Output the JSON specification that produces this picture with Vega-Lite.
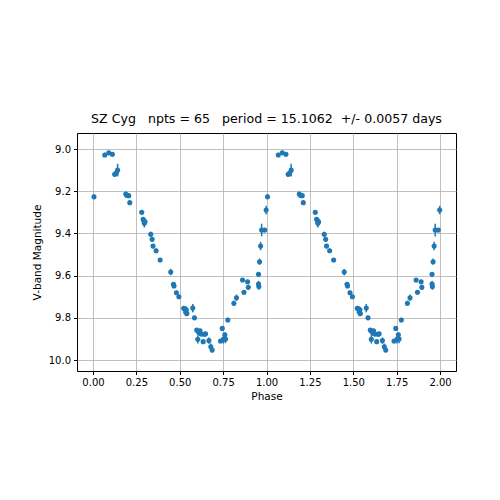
{
  "$schema": "https://vega.github.io/schema/vega-lite/v6.json",
  "autosize": {"type": "none"},
  "padding": {"left": 77, "top": 133, "right": 44, "bottom": 129},
  "width": 379,
  "height": 238,
  "background": "white",
  "title": {
    "text": "SZ Cyg\u00a0\u00a0\u00a0npts = 65\u00a0\u00a0\u00a0period = 15.1062\u00a0\u00a0+/- 0.0057 days",
    "font": "DejaVu Sans",
    "fontSize": 12.6,
    "fontWeight": "normal",
    "color": "#000000",
    "anchor": "middle",
    "offset": 7
  },
  "data": {
    "values": [
      {"p": 0.006, "p2": 1.006, "m": 9.226, "e": 0.012},
      {"p": 0.068, "p2": 1.068, "m": 9.028, "e": 0.01},
      {"p": 0.091, "p2": 1.091, "m": 9.018, "e": 0.01},
      {"p": 0.112, "p2": 1.112, "m": 9.025, "e": 0.01},
      {"p": 0.125, "p2": 1.125, "m": 9.12, "e": 0.012},
      {"p": 0.133, "p2": 1.133, "m": 9.115, "e": 0.01},
      {"p": 0.142, "p2": 1.142, "m": 9.1, "e": 0.03},
      {"p": 0.189, "p2": 1.189, "m": 9.213, "e": 0.01},
      {"p": 0.196, "p2": 1.196, "m": 9.22, "e": 0.01},
      {"p": 0.206, "p2": 1.206, "m": 9.221, "e": 0.01},
      {"p": 0.212, "p2": 1.212, "m": 9.254, "e": 0.008},
      {"p": 0.281, "p2": 1.281, "m": 9.3, "e": 0.01},
      {"p": 0.289, "p2": 1.289, "m": 9.333, "e": 0.01},
      {"p": 0.294, "p2": 1.294, "m": 9.34, "e": 0.01},
      {"p": 0.3, "p2": 1.3, "m": 9.345, "e": 0.01},
      {"p": 0.296, "p2": 1.296, "m": 9.352, "e": 0.02},
      {"p": 0.333, "p2": 1.333, "m": 9.404, "e": 0.012},
      {"p": 0.341, "p2": 1.341, "m": 9.428, "e": 0.01},
      {"p": 0.346, "p2": 1.346, "m": 9.46, "e": 0.01},
      {"p": 0.364, "p2": 1.364, "m": 9.482, "e": 0.01},
      {"p": 0.387, "p2": 1.387, "m": 9.526, "e": 0.008},
      {"p": 0.448, "p2": 1.448, "m": 9.583, "e": 0.015},
      {"p": 0.464, "p2": 1.464, "m": 9.641, "e": 0.01},
      {"p": 0.467, "p2": 1.467, "m": 9.649, "e": 0.01},
      {"p": 0.481, "p2": 1.481, "m": 9.681, "e": 0.01},
      {"p": 0.495, "p2": 1.495, "m": 9.7, "e": 0.01},
      {"p": 0.523, "p2": 1.523, "m": 9.755, "e": 0.01},
      {"p": 0.53, "p2": 1.53, "m": 9.757, "e": 0.01},
      {"p": 0.538, "p2": 1.538, "m": 9.762, "e": 0.015},
      {"p": 0.534, "p2": 1.534, "m": 9.772, "e": 0.02},
      {"p": 0.541, "p2": 1.541, "m": 9.78, "e": 0.01},
      {"p": 0.575, "p2": 1.575, "m": 9.754, "e": 0.02},
      {"p": 0.585, "p2": 1.585, "m": 9.8, "e": 0.01},
      {"p": 0.598, "p2": 1.598, "m": 9.858, "e": 0.01},
      {"p": 0.606, "p2": 1.606, "m": 9.865, "e": 0.01},
      {"p": 0.617, "p2": 1.617, "m": 9.862, "e": 0.01},
      {"p": 0.613, "p2": 1.613, "m": 9.872, "e": 0.012},
      {"p": 0.625, "p2": 1.625, "m": 9.877, "e": 0.01},
      {"p": 0.604, "p2": 1.604, "m": 9.902, "e": 0.02},
      {"p": 0.635, "p2": 1.635, "m": 9.913, "e": 0.01},
      {"p": 0.643, "p2": 1.643, "m": 9.878, "e": 0.01},
      {"p": 0.649, "p2": 1.649, "m": 9.876, "e": 0.01},
      {"p": 0.668, "p2": 1.668, "m": 9.908, "e": 0.015},
      {"p": 0.679, "p2": 1.679, "m": 9.937, "e": 0.015},
      {"p": 0.687, "p2": 1.687, "m": 9.953, "e": 0.01},
      {"p": 0.735, "p2": 1.735, "m": 9.91, "e": 0.01},
      {"p": 0.745, "p2": 1.745, "m": 9.85, "e": 0.01},
      {"p": 0.752, "p2": 1.752, "m": 9.902, "e": 0.02},
      {"p": 0.76, "p2": 1.76, "m": 9.88, "e": 0.01},
      {"p": 0.764, "p2": 1.764, "m": 9.9, "e": 0.02},
      {"p": 0.777, "p2": 1.777, "m": 9.81, "e": 0.01},
      {"p": 0.812, "p2": 1.812, "m": 9.731, "e": 0.012},
      {"p": 0.827, "p2": 1.827, "m": 9.705, "e": 0.015},
      {"p": 0.862, "p2": 1.862, "m": 9.621, "e": 0.01},
      {"p": 0.87, "p2": 1.87, "m": 9.679, "e": 0.01},
      {"p": 0.891, "p2": 1.891, "m": 9.629, "e": 0.01},
      {"p": 0.895, "p2": 1.895, "m": 9.655, "e": 0.012},
      {"p": 0.954, "p2": 1.954, "m": 9.594, "e": 0.01},
      {"p": 0.954, "p2": 1.954, "m": 9.64, "e": 0.015},
      {"p": 0.956, "p2": 1.956, "m": 9.652, "e": 0.015},
      {"p": 0.96, "p2": 1.96, "m": 9.534, "e": 0.015},
      {"p": 0.966, "p2": 1.966, "m": 9.46, "e": 0.02},
      {"p": 0.972, "p2": 1.972, "m": 9.384, "e": 0.03},
      {"p": 0.99, "p2": 1.99, "m": 9.384, "e": 0.01},
      {"p": 0.998, "p2": 1.998, "m": 9.289, "e": 0.02}
    ]
  },
  "transform": [{"fold": ["p", "p2"], "as": ["copy", "phase"]}],
  "layer": [
    {
      "mark": {"type": "errorbar", "color": "#1f77b4", "thickness": 1.5},
      "encoding": {
        "x": {"field": "phase", "type": "quantitative", "title": "Phase"},
        "y": {"field": "m", "type": "quantitative", "title": "V-band Magnitude"},
        "yError": {"field": "e"}
      }
    },
    {
      "mark": {"type": "point", "filled": true, "color": "#1f77b4", "opacity": 1, "size": 26},
      "encoding": {
        "x": {
          "field": "phase",
          "type": "quantitative",
          "scale": {"domain": [-0.092, 2.092], "nice": false, "zero": false},
          "axis": {"values": [0, 0.25, 0.5, 0.75, 1, 1.25, 1.5, 1.75, 2], "format": ".2f"},
          "title": "Phase"
        },
        "y": {
          "field": "m",
          "type": "quantitative",
          "scale": {"domain": [8.924, 10.052], "nice": false, "zero": false, "reverse": true},
          "axis": {"values": [9.0, 9.2, 9.4, 9.6, 9.8, 10.0], "format": ".1f", "titlePadding": 6},
          "title": "V-band Magnitude"
        }
      }
    }
  ],
  "config": {
    "font": "DejaVu Sans",
    "view": {"stroke": "#000000", "strokeWidth": 1},
    "axis": {
      "grid": true,
      "gridColor": "#b0b0b0",
      "gridWidth": 0.8,
      "gridOpacity": 1,
      "domain": false,
      "tickColor": "#000000",
      "tickSize": 3.5,
      "tickWidth": 1,
      "labelFont": "DejaVu Sans",
      "labelFontSize": 10,
      "labelColor": "#000000",
      "labelPadding": 3,
      "titleFont": "DejaVu Sans",
      "titleFontSize": 10.5,
      "titleFontWeight": "normal",
      "titleColor": "#000000",
      "titlePadding": 4
    }
  }
}
